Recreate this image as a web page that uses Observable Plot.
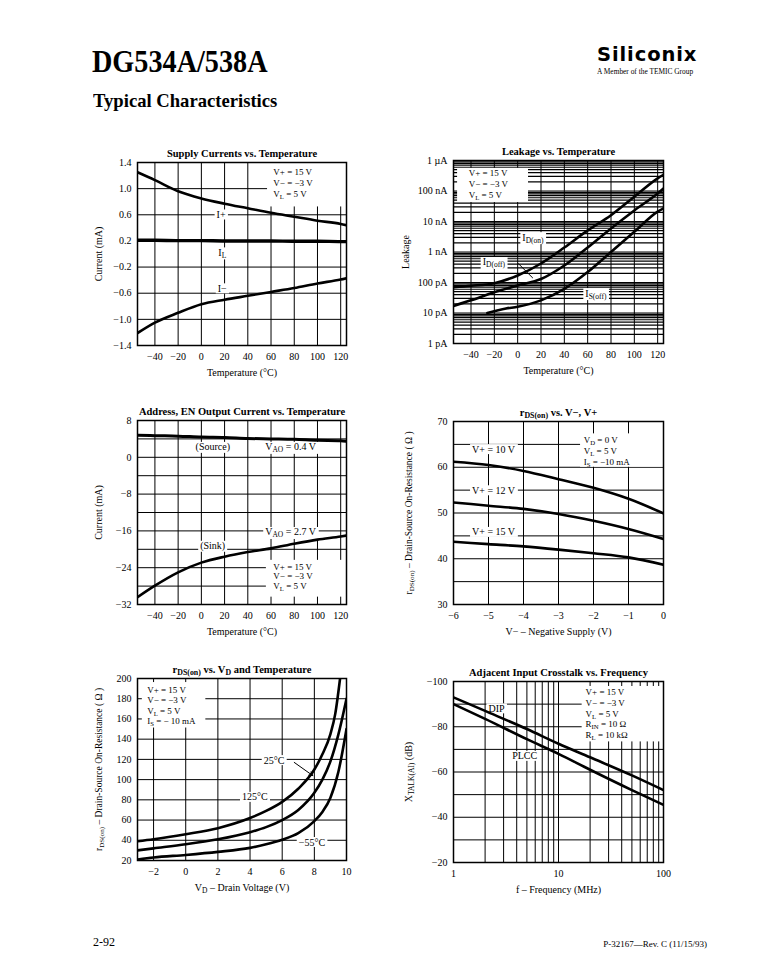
<!DOCTYPE html>
<html><head><meta charset="utf-8">
<script src="https://cdn.jsdelivr.net/npm/d3@7"></script>
<script src="https://cdn.jsdelivr.net/npm/@observablehq/plot@0.6"></script>
<style>
html,body{margin:0;padding:0;background:#fff;}
#page{position:relative;width:784px;height:978px;overflow:hidden;background:#fff;font-family:"Liberation Serif","Times New Roman",serif;color:#000;}
.abs{position:absolute;white-space:nowrap;line-height:1;}
.panel{position:absolute;}
</style></head><body>
<div id="page">
 <div class="abs" style="left:92px;top:46px;font-size:31px;font-weight:bold;transform:scaleX(0.91);transform-origin:0 0;">DG534A/538A</div>
 <div class="abs" style="left:93px;top:91px;font-size:19px;font-weight:bold;transform:scaleX(0.98);transform-origin:0 0;">Typical Characteristics</div>
 <div class="abs" style="left:597px;top:47px;font-family:'DejaVu Sans';font-size:19.5px;line-height:16px;font-weight:bold;letter-spacing:0.9px">Siliconix</div>
 <div class="abs" style="left:597px;top:67.5px;font-size:7.4px;">A Member of the TEMIC Group</div>
 <div class="abs" style="left:93px;top:936px;font-size:12px;">2-92</div>
 <div class="abs" style="right:77px;top:940px;font-size:9px;">P-32167—Rev. C (11/15/93)</div>
</div>
<script>
// ---------- data ----------
// Supply Currents vs. Temperature
const supplyTemp   = [-55, -40, -20, 0, 20, 40, 60, 80, 100, 120, 125];
const supplyIPlus  = [1.25, 1.13, 0.96, 0.85, 0.77, 0.70, 0.63, 0.57, 0.51, 0.46, 0.44];
const supplyIL     = [0.21, 0.21, 0.205, 0.205, 0.20, 0.20, 0.20, 0.195, 0.195, 0.19, 0.19];
const supplyIMinus = [-1.21, -1.05, -0.90, -0.77, -0.70, -0.64, -0.58, -0.52, -0.45, -0.39, -0.37];
const supplyTicks  = [1.4, 1.0, 0.6, 0.2, -0.2, -0.6, -1.0, -1.4];

// Leakage vs. Temperature (A)
const leakTemp   = [-55, -40, -20, 0, 20, 40, 60, 80, 100, 120, 125];
const leakIDon   = [7.0e-11, 7.8e-11, 9.5e-11, 1.7e-10, 4.2e-10, 1.4e-9, 5.1e-9, 1.6e-8, 6.5e-8, 2.6e-7, 3.4e-7];
const leakIDoff  = [1.7e-11, 2.6e-11, 4.8e-11, 8.0e-11, 1.3e-10, 3.6e-10, 1.4e-9, 5.9e-9, 2.3e-8, 8.3e-8, 1.2e-7];
const leakTempS  = [-26, -10, 0, 20, 40, 60, 80, 100, 120, 125];
const leakISoff  = [1.0e-11, 1.4e-11, 1.6e-11, 2.6e-11, 6.2e-11, 2.2e-10, 1.0e-9, 4.6e-9, 2.1e-8, 2.7e-8];
const leakTicks  = [1e-6, 1e-7, 1e-8, 1e-9, 1e-10, 1e-11, 1e-12];
const leakLabels = ["1 µA", "100 nA", "10 nA", "1 nA", "100 pA", "10 pA", "1 pA"];

// Address, EN Output Current vs. Temperature (mA)
const aoTemp   = [-55, -40, -20, 0, 20, 40, 60, 80, 100, 120, 125];
const aoSource = [4.8, 4.7, 4.6, 4.4, 4.3, 4.1, 4.0, 3.9, 3.7, 3.6, 3.5];
const aoSink   = [-30.4, -27.9, -25.0, -22.9, -21.6, -20.6, -19.8, -18.8, -17.9, -17.2, -17.0];
const aoTicks  = [8, 0, -8, -16, -24, -32];

// rDS(on) vs V-, V+
const vNeg  = [-6, -5, -4, -3, -2, -1, 0];
const rV10  = [61.2, 60.5, 59.2, 57.4, 55.5, 53.1, 49.9];
const rV12  = [52.3, 51.6, 50.9, 49.8, 48.3, 46.5, 44.3];
const rV15  = [43.7, 43.2, 42.7, 42.0, 41.2, 40.3, 38.7];
const vNegTicks = [-6, -5, -4, -3, -2, -1, 0];
const rNegTicks = [30, 40, 50, 60, 70];

// rDS(on) vs VD and Temperature
const vdHot  = [-3, -2, 0, 2, 4, 5, 6, 7, 8, 8.5, 9, 9.3, 9.6];
const rHot   = [39, 41, 46, 52, 62, 69, 78, 91, 110, 125, 145, 165, 200];
const vdRoom = [-3, -2, 0, 2, 4, 5, 6, 7, 8, 8.5, 9, 9.5, 10];
const rRoom  = [30, 32, 36, 41, 48, 53, 60, 70, 87, 100, 118, 145, 180];
const vdCold = [-3, -2, 0, 2, 4, 5, 6, 7, 8, 8.5, 9, 9.5, 10];
const rCold  = [21, 23, 25.5, 28.5, 32.5, 36, 40.5, 47, 59, 68, 82, 108, 150];
const vdTicks = [-2, 0, 2, 4, 6, 8, 10];
const rVdTicks = [20, 40, 60, 80, 100, 120, 140, 160, 180, 200];

// Adjacent Input Crosstalk vs Frequency
const freq   = [1, 2, 5, 10, 20, 50, 100];
const xtDIP  = [-93, -87, -79, -72.5, -66.5, -58.5, -52];
const xtPLCC = [-90, -83.5, -74.5, -68, -61, -52, -45.5];
const freqTicks = [1, 10, 100];
const xtTicks = [-100, -80, -60, -40, -20];

const tempTicks = [-40, -20, 0, 20, 40, 60, 80, 100, 120];

// ---------- helpers ----------
const FONT = '"Liberation Serif", "Times New Roman", serif';
const INK = "#000";
const TAG = "#010101"; // label ink, marks labels that get a white box
const page = document.getElementById("page");
const fmtD = d3.format("d");
const fmt1 = d3.format(".1f");
const series = (xs, ys) => xs.map((x, i) => ({x, y: ys[i]}));
const lines = (xs, ys, txt) => txt.map((t, i) => ({x: xs, y: ys[i], text: t}));

// condition block: white box + text lines
function cond(box, data) {
  return [
    Plot.rect([box], {x1: "x1", x2: "x2", y1: "y1", y2: "y2", fill: "white"}),
    Plot.text(data, {x: "x", y: "y", text: "text", textAnchor: "start", fill: INK, fontSize: 9})
  ];
}
// curve labels (get a white box behind them after rendering)
function tag(data, anchor = "start") {
  return Plot.text(data, {x: "x", y: "y", text: "text", textAnchor: anchor, fill: TAG});
}
function curve(data, w = 2.6) {
  return Plot.line(data, {x: "x", y: "y", stroke: INK, strokeWidth: w, curve: "monotone-x", clip: true});
}
function subscripts(svg) {
  const ns = "http://www.w3.org/2000/svg";
  svg.querySelectorAll("text").forEach(t => {
    const s = t.textContent;
    if (!s.includes("_{")) return;
    while (t.firstChild) t.removeChild(t.firstChild);
    const re = /_\{([^}]*)\}/g;
    let last = 0, m, shifted = false;
    const add = (str, sub) => {
      const ts = document.createElementNS(ns, "tspan");
      ts.textContent = str;
      if (sub) { ts.setAttribute("dy", "2"); ts.style.fontSize = "75%"; shifted = true; }
      else if (shifted) { ts.setAttribute("dy", "-2"); shifted = false; }
      t.appendChild(ts);
    };
    while ((m = re.exec(s))) {
      if (m.index > last) add(s.slice(last, m.index), false);
      add(m[1], true);
      last = re.lastIndex;
    }
    if (last < s.length) add(s.slice(last), false);
  });
}
function labelBoxes(svg) {
  const ns = "http://www.w3.org/2000/svg";
  svg.querySelectorAll('g[fill="' + TAG + '"] text').forEach(t => {
    const b = t.getBBox();
    const r = document.createElementNS(ns, "rect");
    r.setAttribute("x", b.x - 2);
    r.setAttribute("y", b.y + 0.5);
    r.setAttribute("width", b.width + 4);
    r.setAttribute("height", b.height - 1);
    r.setAttribute("fill", "white");
    const tr = t.getAttribute("transform");
    if (tr) r.setAttribute("transform", tr);
    t.parentNode.insertBefore(r, t);
  });
}
function panel(box, cfg) {
  const svg = Plot.plot({
    width: box.w, height: box.h,
    marginLeft: box.mL, marginRight: box.mR, marginTop: box.mT, marginBottom: box.mB,
    style: {fontFamily: FONT, fontSize: "10px", color: INK, background: "transparent", overflow: "visible"},
    x: {tickSize: 0, tickPadding: 7, label: null, ...cfg.x},
    y: {tickSize: 0, tickPadding: 6, label: null, ...cfg.y},
    marks: [
      ...cfg.marks,
      Plot.frame({stroke: INK, strokeWidth: 1.5}),
      Plot.text([cfg.title], {text: d => d, frameAnchor: "top", textAnchor: "middle", dy: -13, fontWeight: "bold", fontSize: 10.5}),
      Plot.text([cfg.xLabel], {text: d => d, frameAnchor: "bottom", textAnchor: "middle", dy: 30, fontSize: 10}),
      Plot.text([cfg.yLabel], {text: d => d, frameAnchor: "left", textAnchor: "middle", dx: cfg.yDx, rotate: -90, fontSize: cfg.yFont || 10})
    ]
  });
  const div = document.createElement("div");
  div.className = "panel";
  div.style.left = box.left + "px";
  div.style.top = box.top + "px";
  div.appendChild(svg);
  page.appendChild(div);
  subscripts(svg);
  labelBoxes(svg);
}
const gridStyle = {stroke: INK, strokeWidth: 1};

// ---------- 1. Supply Currents ----------
panel({left: 80, top: 138, w: 280, h: 250, mL: 57, mR: 14, mT: 24, mB: 43}, {
  title: "Supply Currents vs. Temperature",
  xLabel: "Temperature (°C)", yLabel: "Current (mA)", yDx: -39,
  x: {domain: [-55, 125], ticks: tempTicks, tickFormat: fmtD},
  y: {domain: [-1.4, 1.4], ticks: supplyTicks, tickFormat: fmt1},
  marks: [
    Plot.ruleX(tempTicks, gridStyle),
    Plot.ruleY(supplyTicks, gridStyle),
    ...cond({x1: 57, x2: 125, y1: 0.72, y2: 1.4},
      lines(62, [1.25, 1.08, 0.91], ["V+ = 15 V", "V− = −3 V", "V_{L} = 5 V"])),
    curve(series(supplyTemp, supplyIPlus)),
    curve(series(supplyTemp, supplyIL), 3.4),
    curve(series(supplyTemp, supplyIMinus)),
    tag([{x: 17, y: 0.60, text: "I+"}, {x: 18, y: 0.02, text: "I_{L}"}, {x: 18, y: -0.53, text: "I−"}], "middle")
  ]
});

// ---------- 2. Leakage ----------
const leakGrid = [];
for (let e = -12; e <= -7; e++) for (let k = 1; k <= 9; k++) leakGrid.push(k * Math.pow(10, e));
leakGrid.push(1e-6);
panel({left: 395, top: 136, w: 280, h: 252, mL: 58, mR: 12, mT: 24, mB: 45}, {
  title: "Leakage vs. Temperature",
  xLabel: "Temperature (°C)", yLabel: "Leakage", yDx: -48,
  x: {domain: [-55, 125], ticks: tempTicks, tickFormat: fmtD},
  y: {type: "log", domain: [1e-12, 1e-6], ticks: leakTicks, tickFormat: d => leakLabels[leakTicks.indexOf(d)]},
  marks: [
    Plot.ruleX(tempTicks, gridStyle),
    Plot.ruleY(leakGrid, {stroke: INK, strokeWidth: 1.2}),
    ...cond({x1: -51.5, x2: 9.3, y1: 4.2e-8, y2: 5.5e-7},
      lines(-42, [3.75e-7, 1.63e-7, 7.1e-8], ["V+ = 15 V", "V− = −3 V", "V_{L} = 5 V"])),
    curve(series(leakTemp, leakIDon)),
    curve(series(leakTemp, leakIDoff)),
    curve(series(leakTempS, leakISoff)),
    tag([{x: 4, y: 3e-9, text: "I_{D(on)}"}, {x: -30, y: 4.6e-10, text: "I_{D(off)}"}, {x: 58, y: 4.4e-11, text: "I_{S(off)}"}]),
    Plot.link([{x1: 0.5, y1: 4.2e-10, x2: 13, y2: 1.4e-10}], {x1: "x1", y1: "y1", x2: "x2", y2: "y2", stroke: INK, strokeWidth: 1})
  ]
});

// ---------- 3. Address, EN Output Current ----------
panel({left: 80, top: 396, w: 280, h: 250, mL: 57, mR: 14, mT: 24, mB: 42}, {
  title: "Address, EN Output Current vs. Temperature",
  xLabel: "Temperature (°C)", yLabel: "Current (mA)", yDx: -39,
  x: {domain: [-55, 125], ticks: tempTicks, tickFormat: fmtD},
  y: {domain: [-32, 8], ticks: aoTicks, tickFormat: fmtD},
  marks: [
    Plot.ruleX(tempTicks, gridStyle),
    Plot.ruleY(d3.range(-32, 9, 4), gridStyle),
    ...cond({x1: 56, x2: 125, y1: -30.4, y2: -22.4},
      lines(62, [-23.8, -25.9, -28.0], ["V+ = 15 V", "V− = −3 V", "V_{L} = 5 V"])),
    tag([{x: -5, y: 2.2, text: "(Source)"}, {x: 55, y: 2.2, text: "V_{AO} = 0.4 V"},
         {x: 55, y: -16.3, text: "V_{AO} = 2.7 V"}, {x: -1, y: -19.3, text: "(Sink)"}]),
    curve(series(aoTemp, aoSource), 3),
    curve(series(aoTemp, aoSink))
  ]
});

// ---------- 4. rDS(on) vs V-, V+ ----------
panel({left: 395, top: 397, w: 280, h: 250, mL: 58, mR: 12, mT: 24, mB: 43}, {
  title: "r_{DS(on)} vs. V−, V+",
  xLabel: "V− – Negative Supply (V)", yLabel: "r_{DS(on)} – Drain-Source On-Resistance ( Ω )", yDx: -45, yFont: 9.5,
  x: {domain: [-6, 0], ticks: vNegTicks, tickFormat: fmtD},
  y: {domain: [30, 70], ticks: rNegTicks, tickFormat: fmtD},
  marks: [
    Plot.ruleX(vNegTicks, gridStyle),
    Plot.ruleY(d3.range(30, 71, 5), gridStyle),
    ...cond({x1: -2.37, x2: 0, y1: 60.0, y2: 67.3},
      lines(-2.28, [66.0, 63.6, 61.2], ["V_{D} = 0 V", "V_{L} = 5 V", "I_{S} = −10 mA"])),
    tag([{x: -5.47, y: 63.9, text: "V+ = 10 V"}, {x: -5.47, y: 54.9, text: "V+ = 12 V"}, {x: -5.47, y: 45.8, text: "V+ = 15 V"}]),
    curve(series(vNeg, rV10)),
    curve(series(vNeg, rV12)),
    curve(series(vNeg, rV15))
  ]
});

// ---------- 5. rDS(on) vs VD and Temperature ----------
panel({left: 80, top: 654, w: 280, h: 250, mL: 57, mR: 14, mT: 24, mB: 44}, {
  title: "r_{DS(on)} vs. V_{D} and Temperature",
  xLabel: "V_{D} – Drain Voltage (V)", yLabel: "r_{DS(on)} – Drain-Source On-Resistance ( Ω )", yDx: -39, yFont: 9.5,
  x: {domain: [-3, 10], ticks: vdTicks, tickFormat: fmtD},
  y: {domain: [20, 200], ticks: rVdTicks, tickFormat: fmtD},
  marks: [
    Plot.ruleX(vdTicks, gridStyle),
    Plot.ruleY(rVdTicks, gridStyle),
    ...cond({x1: -2.7, x2: 1.25, y1: 151, y2: 196},
      lines(-2.4, [189, 178.5, 168, 157.5], ["V+ = 15 V", "V− = −3 V", "V_{L} = 5 V", "I_{S} = − 10 mA"])),
    tag([{x: 3.5, y: 82.6, text: "125°C"}, {x: 4.85, y: 119, text: "25°C"}, {x: 7.03, y: 38, text: "−55°C"}]),
    curve(series(vdHot, rHot)),
    curve(series(vdRoom, rRoom)),
    curve(series(vdCold, rCold)),
    Plot.arrow([{x1: 6.75, y1: 117, x2: 7.9, y2: 104}], {x1: "x1", y1: "y1", x2: "x2", y2: "y2", stroke: INK, strokeWidth: 1, headLength: 6})
  ]
});

// ---------- 6. Crosstalk ----------
const freqGrid = [1, 2, 3, 4, 5, 6, 7, 8, 9, 10, 20, 30, 40, 50, 60, 70, 80, 90, 100];
panel({left: 395, top: 657, w: 280, h: 250, mL: 58, mR: 12, mT: 24, mB: 45}, {
  title: "Adjacent Input Crosstalk vs. Frequency",
  xLabel: "f – Frequency (MHz)", yLabel: "X_{TALK(AI)} (dB)", yDx: -45,
  x: {type: "log", domain: [1, 100], ticks: freqTicks, tickFormat: d => String(d)},
  y: {domain: [-20, -100], ticks: xtTicks, tickFormat: fmtD},
  marks: [
    Plot.ruleX(freqGrid, gridStyle),
    Plot.ruleY(d3.range(-100, -19, 10), gridStyle),
    ...cond({x1: 16.8, x2: 100, y1: -73.3, y2: -97.8},
      lines(18.1, [-95.4, -90.6, -85.8, -81.0, -76.2], ["V+ = 15 V", "V− = −3 V", "V_{L} = 5 V", "R_{IN} = 10 Ω", "R_{L} = 10 kΩ"])),
    tag([{x: 2.15, y: -88, text: "DIP"}, {x: 3.62, y: -67, text: "PLCC"}]),
    curve(series(freq, xtDIP)),
    curve(series(freq, xtPLCC))
  ]
});
</script>
</body></html>
